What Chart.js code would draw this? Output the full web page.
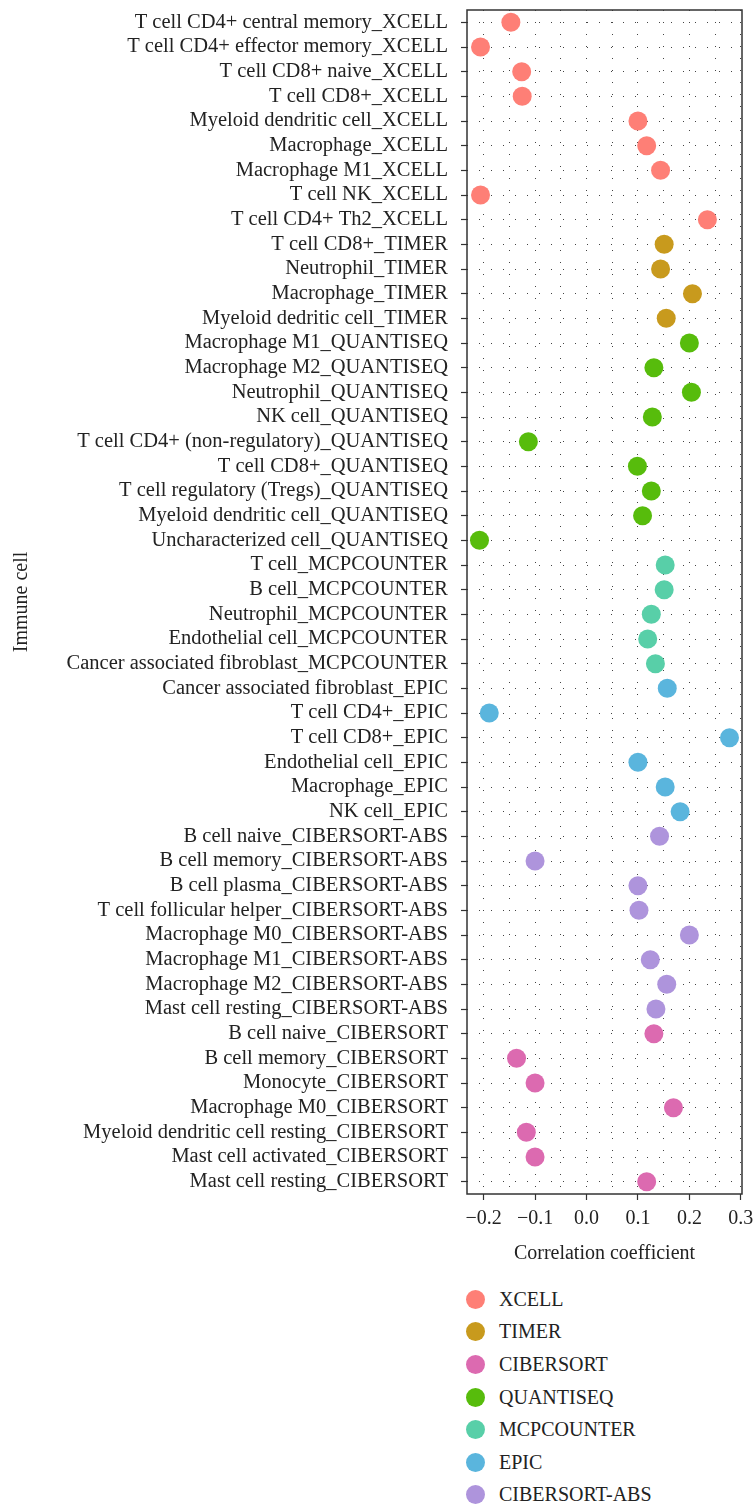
<!DOCTYPE html>
<html><head><meta charset="utf-8">
<script src="https://cdn.jsdelivr.net/npm/chart.js@4/dist/chart.umd.min.js"></script>
<style>
html,body{margin:0;padding:0;background:#fff;}
#wrap{position:relative;width:755px;height:1505px;}
#c{position:absolute;left:0;top:0;}
#legend{position:absolute;left:466px;top:1283px;font-family:"Liberation Serif","DejaVu Serif",serif;font-size:20px;color:#222;}
.li{height:32.6px;display:flex;align-items:center;}
.dot{width:19px;height:19px;border-radius:50%;margin-right:14px;}
</style></head>
<body><div id="wrap"><canvas id="c" width="755" height="1266"></canvas><div id="legend"></div></div>
<script>
const methods = ["XCELL","TIMER","CIBERSORT","QUANTISEQ","MCPCOUNTER","EPIC","CIBERSORT-ABS"];
const methodColors = ["#FE7F76","#C89A1D","#DC6AB0","#57BC0C","#58CFA8","#5AB5DD","#AE94DC"];

const xcellCells = ["T cell CD4+ central memory","T cell CD4+ effector memory","T cell CD8+ naive","T cell CD8+","Myeloid dendritic cell","Macrophage","Macrophage M1","T cell NK","T cell CD4+ Th2"];
const xcellValues = [-0.147,-0.206,-0.126,-0.125,0.100,0.117,0.144,-0.206,0.235];

const timerCells = ["T cell CD8+","Neutrophil","Macrophage","Myeloid dedritic cell"];
const timerValues = [0.151,0.144,0.206,0.155];

const quantiseqCells = ["Macrophage M1","Macrophage M2","Neutrophil","NK cell","T cell CD4+ (non-regulatory)","T cell CD8+","T cell regulatory (Tregs)","Myeloid dendritic cell","Uncharacterized cell"];
const quantiseqValues = [0.200,0.131,0.204,0.128,-0.113,0.099,0.126,0.109,-0.208];

const mcpcounterCells = ["T cell","B cell","Neutrophil","Endothelial cell","Cancer associated fibroblast"];
const mcpcounterValues = [0.153,0.151,0.126,0.119,0.134];

const epicCells = ["Cancer associated fibroblast","T cell CD4+","T cell CD8+","Endothelial cell","Macrophage","NK cell"];
const epicValues = [0.157,-0.189,0.278,0.100,0.153,0.182];

const cibersortAbsCells = ["B cell naive","B cell memory","B cell plasma","T cell follicular helper","Macrophage M0","Macrophage M1","Macrophage M2","Mast cell resting"];
const cibersortAbsValues = [0.142,-0.100,0.100,0.102,0.200,0.124,0.156,0.135];

const cibersortCells = ["B cell naive","B cell memory","Monocyte","Macrophage M0","Myeloid dendritic cell resting","Mast cell activated","Mast cell resting"];
const cibersortValues = [0.131,-0.136,-0.100,0.169,-0.117,-0.100,0.117];

const xTicks = [-0.2,-0.1,0.0,0.1,0.2,0.3];

// row order top -> bottom
const groups = [
  ["XCELL", xcellCells, xcellValues],
  ["TIMER", timerCells, timerValues],
  ["QUANTISEQ", quantiseqCells, quantiseqValues],
  ["MCPCOUNTER", mcpcounterCells, mcpcounterValues],
  ["EPIC", epicCells, epicValues],
  ["CIBERSORT-ABS", cibersortAbsCells, cibersortAbsValues],
  ["CIBERSORT", cibersortCells, cibersortValues]
];
const categories = [];
groups.forEach(g => g[1].forEach(c => categories.push(c + "_" + g[0])));

const datasets = methods.map((m, i) => {
  const g = groups.find(x => x[0] === m);
  return {
    label: m,
    data: g[1].map((c, j) => ({x: g[2][j], y: c + "_" + m})),
    backgroundColor: methodColors[i],
    borderColor: methodColors[i],
    borderWidth: 0,
    pointRadius: 9.5,
    pointHoverRadius: 9.5
  };
});

const FONT = "'Liberation Serif','DejaVu Serif',serif";
const fmt = v => { const r = Math.round(v*10)/10; return (r < 0 ? "\u2212" : "") + Math.abs(r).toFixed(1); };
const isMajor = v => Math.abs(Math.round(v*10) - v*10) < 1e-6;

const panelBorder = {
  id: 'panelBorder',
  afterDatasetsDraw(chart) {
    const {ctx, chartArea: a} = chart;
    ctx.save();
    ctx.strokeStyle = '#333';
    ctx.lineWidth = 1.5;
    ctx.strokeRect(a.left, a.top, a.right - a.left, a.bottom - a.top);
    ctx.restore();
  }
};

new Chart(document.getElementById('c'), {
  type: 'scatter',
  data: { labels: categories, datasets },
  plugins: [panelBorder],
  options: {
    responsive: false,
    animation: false,
    events: [],
    layout: { padding: { top: 10, right: 13, left: 0, bottom: 0 } },
    plugins: { legend: { display: false }, tooltip: { enabled: false } },
    scales: {
      x: {
        type: 'linear',
        min: -0.2323, max: 0.3023,
        afterBuildTicks(scale) {
          const t = [];
          for (let k = -4; k <= 6; k++) t.push({value: k * 0.05});
          scale.ticks = t;
        },
        afterFit(scale) { scale.height = 72; scale.paddingLeft = 0; scale.paddingRight = 0; },
        ticks: {
          autoSkip: false, maxRotation: 0,
          color: '#222', padding: 7,
          font: { family: FONT, size: 20 },
          callback: v => isMajor(v) ? fmt(v) : ''
        },
        grid: {
          color: '#444', lineWidth: 1, borderDash: [1, 11],
          tickLength: 6, tickWidth: 1.2,
          tickColor: ctx => (ctx.tick && isMajor(ctx.tick.value)) ? '#333' : 'rgba(0,0,0,0)'
        },
        border: { display: false, dash: [1, 11] },
        title: { display: true, text: 'Correlation coefficient', color: '#222', font: { family: FONT, size: 20 }, padding: { top: 8, bottom: 0 } }
      },
      y: {
        type: 'category',
        labels: categories,
        offset: true,
        afterFit(scale) { scale.width = 467; scale.paddingTop = 0; scale.paddingBottom = 0; },
        ticks: { autoSkip: false, color: '#222', padding: 13, font: { family: FONT, size: 20.5 } },
        grid: { color: '#444', lineWidth: 1, borderDash: [1, 11], tickLength: 6, tickWidth: 1.2, tickColor: '#333' },
        border: { display: false, dash: [1, 11] },
        title: { display: true, text: 'Immune cell', color: '#222', font: { family: FONT, size: 20 }, padding: { top: 10, bottom: 0 } }
      }
    }
  }
});

const lg = document.getElementById('legend');
methods.forEach((m, i) => {
  const d = document.createElement('div'); d.className = 'li';
  const s = document.createElement('span'); s.className = 'dot'; s.style.background = methodColors[i];
  const t = document.createElement('span'); t.textContent = m;
  d.appendChild(s); d.appendChild(t); lg.appendChild(d);
});
</script></body></html>
